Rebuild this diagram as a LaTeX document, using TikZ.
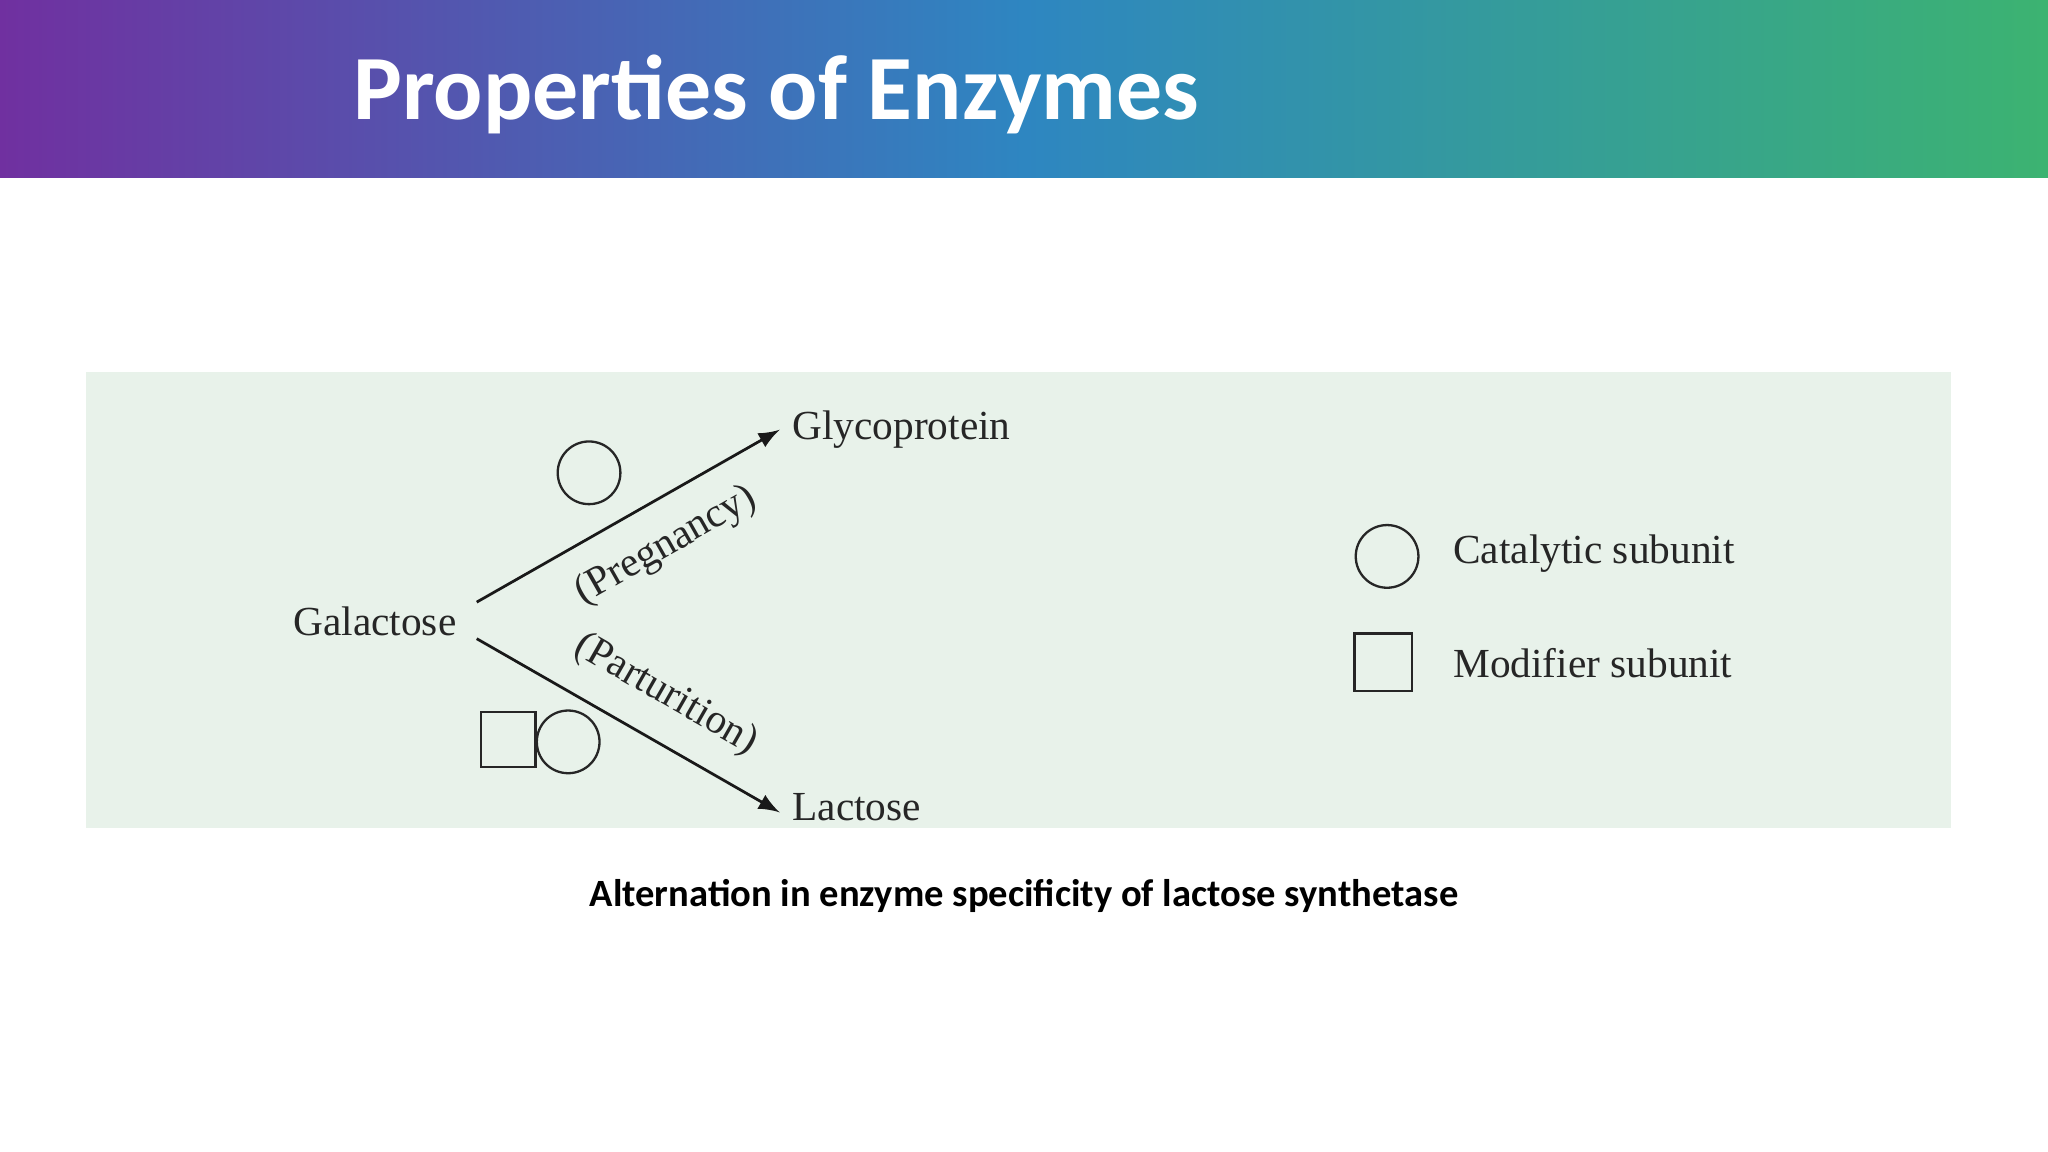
\documentclass[tikz,border=0pt]{standalone}
\usepackage{fontspec}
\setmainfont{Liberation Serif}
\newfontfamily\carl{Carlito}
\begin{document}
\begin{tikzpicture}[x=0.01cm,y=-0.01cm,
  serif/.style={font=\fontsize{9}{11}\selectfont, text=black!85},
  shp/.style={draw=black!85, line width=0.5pt},
  arr/.style={-latex, line width=0.6pt, black!90}]
\useasboundingbox (0,0) rectangle (1568,882);
\fill[white] (0,0) rectangle (1568,882);
\shade[left color={rgb,255:red,112;green,48;blue,160}, right color={rgb,255:red,60;green,179;blue,113}, middle color={rgb,255:red,46;green,134;blue,193}] (0,0) rectangle (1568,136);
\node[anchor=west, inner sep=0, text=white, font=\carl\bfseries\fontsize{20}{24}\selectfont] (title) at (270,72) {Properties of Enzymes};
\fill[fill={rgb,255:red,232;green,242;blue,234}] (66,285) rectangle (1494,634);
\node[serif, inner sep=0] (gal) at (287,476) {Galactose};
\node[serif, anchor=west, inner sep=0] (gly) at (606,329) {Glycoprotein};
\node[serif, anchor=west, inner sep=0] (lac) at (606,618) {Lactose};
\coordinate (a1) at (365,461); \coordinate (a2) at (597,329);
\coordinate (b1) at (365,489); \coordinate (b2) at (597,622);
\draw[arr] (a1) -- (a2);
\draw[arr] (b1) -- (b2);
\node[serif, inner sep=0, rotate=29.6] (preg) at (510,418) {(Pregnancy)};
\node[serif, inner sep=0, rotate=-29.8] (part) at (510,532) {(Parturition)};
\draw[shp] (451,362) circle (24);
\draw[shp] (368,545) rectangle (410,587);
\draw[shp] (435,568) circle (24);
\draw[shp] (1062,426) circle (24);
\draw[shp] (1037,485) rectangle (1081,529);
\node[serif, anchor=west, inner sep=0] (cat) at (1112,424) {Catalytic subunit};
\node[serif, anchor=west, inner sep=0] (mod) at (1112,508) {Modifier subunit};
\node[font=\carl\bfseries\fontsize{8.4}{10}\selectfont] (cap) at (784,686) {Alternation in enzyme specificity of lactose synthetase};
\end{tikzpicture}
\end{document}
